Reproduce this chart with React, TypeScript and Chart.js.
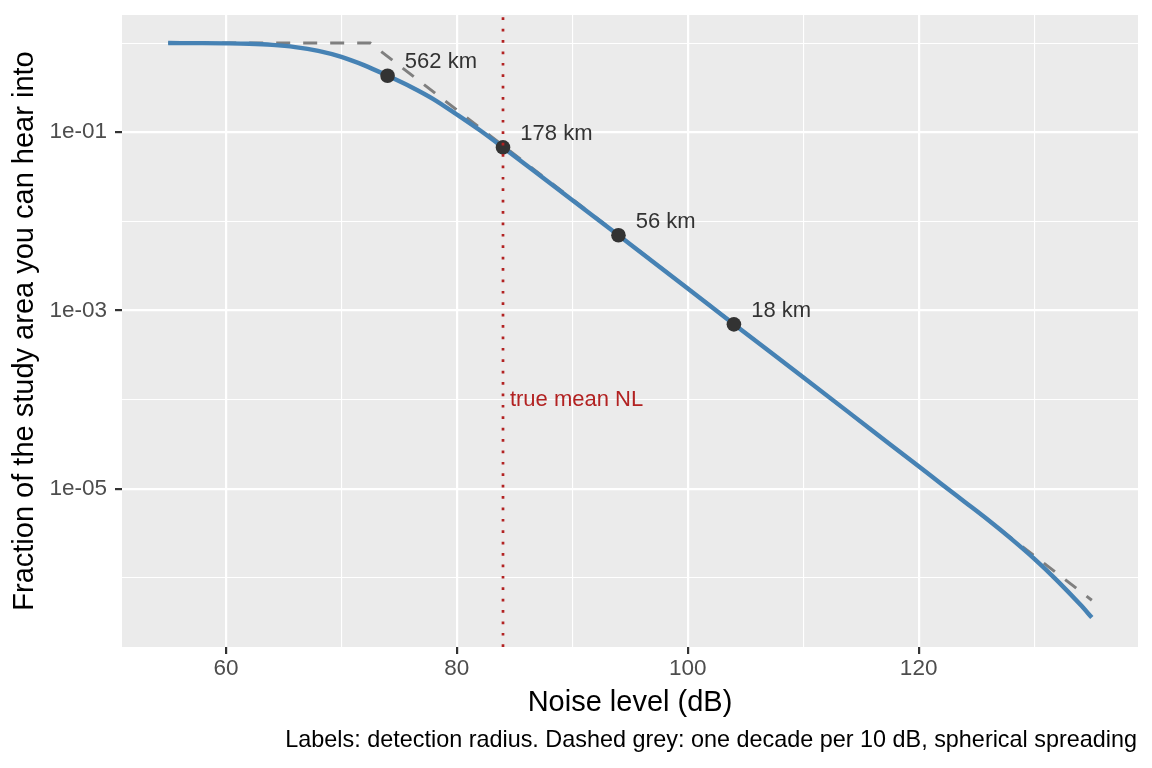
import { useEffect, useRef } from "react"
import { Chart, registerables } from "chart.js"

Chart.register(...registerables)

const FONT = "'Liberation Sans', Arial, sans-serif"

// Blue curve: fraction of study area heard vs noise level
const noiseLevel = [55, 58, 60, 62, 64, 66, 68, 70, 72, 74, 76, 78, 80, 82, 84, 88, 94, 100, 104, 110, 116, 120, 122, 124, 126, 128, 130, 132, 134, 135]
const fractionHeard = [
  1.0, 0.998, 0.993, 0.982, 0.955, 0.902, 0.817, 0.7, 0.562, 0.43, 0.324, 0.234, 0.158, 0.105, 0.0675, 0.0272,
  0.00697, 0.00176, 0.000698, 0.000178, 4.47e-5, 1.78e-5, 1.12e-5, 7.08e-6, 4.47e-6, 2.75e-6, 1.64e-6, 9.3e-7,
  5.0e-7, 3.58e-7,
]

// Labelled points: detection radius
const radiusNL = [74, 84, 94, 104]
const radiusFraction = [0.43, 0.0675, 0.00697, 0.000698]
const radiusLabels = ["562 km", "178 km", "56 km", "18 km"]

// Dashed grey: one decade per 10 dB
const sphericalNL = [55, 72.5, 135]
const sphericalFraction = [1, 1, 5.6e-7]

const trueMeanNL = 84
const trueMeanLabelY = 1e-4
const trueMeanLabel = "true mean NL"

const xMajorTicks = [60, 80, 100, 120]
const xMinorTicks = [70, 90, 110, 130]
const yMajorTicks = [1e-5, 1e-3, 1e-1]
const yMinorTicks = [1e-6, 1e-4, 1e-2, 1]
const yTickLabels = ["1e-05", "1e-03", "1e-01"]

const X_MIN = 51
const X_MAX = 139
const Y_MIN = Math.pow(10, -6.777)
const Y_MAX = Math.pow(10, 0.315)

const isMajorY = (v: number) => yMajorTicks.some((m) => Math.abs(Math.log10(m) - Math.log10(v)) < 1e-6)

const ggDecor = {
  id: "ggDecor",
  beforeDraw(chart: any) {
    const { ctx, chartArea: a } = chart
    ctx.save()
    ctx.fillStyle = "#EBEBEB"
    ctx.fillRect(a.left, a.top, a.right - a.left, a.bottom - a.top)
    ctx.restore()
  },
  afterDatasetsDraw(chart: any) {
    const { ctx, scales } = chart
    const x = scales.x
    const y = scales.y
    ctx.save()
    ctx.font = `22px ${FONT}`
    ctx.textAlign = "left"
    ctx.textBaseline = "middle"
    ctx.fillStyle = "#333333"
    radiusLabels.forEach((t, i) => {
      ctx.fillText(t, x.getPixelForValue(radiusNL[i] + 1.5), y.getPixelForValue(radiusFraction[i] * Math.pow(10, 0.15)))
    })
    ctx.fillStyle = "#B22222"
    ctx.fillText(trueMeanLabel, x.getPixelForValue(trueMeanNL + 0.6), y.getPixelForValue(trueMeanLabelY))
    ctx.restore()
  },
  afterDraw(chart: any) {
    const { ctx, chartArea: a } = chart
    ctx.save()
    ctx.fillStyle = "#000000"
    ctx.textBaseline = "alphabetic"
    ctx.font = `29px ${FONT}`
    ctx.textAlign = "center"
    ctx.fillText("Noise level (dB)", (a.left + a.right) / 2, a.bottom + 64)
    ctx.save()
    ctx.translate(33, (a.top + a.bottom) / 2)
    ctx.rotate(-Math.PI / 2)
    ctx.fillText("Fraction of the study area you can hear into", 0, 0)
    ctx.restore()
    ctx.font = `23.4px ${FONT}`
    ctx.textAlign = "right"
    ctx.fillText("Labels: detection radius. Dashed grey: one decade per 10 dB, spherical spreading", a.right - 1, a.bottom + 100)
    ctx.restore()
  },
}

export default function App() {
  const chartRef = useRef<HTMLCanvasElement>(null)
  const chartInstance = useRef<Chart | null>(null)

  useEffect(() => {
    if (!chartRef.current) return
    if (chartInstance.current) chartInstance.current.destroy()
    const ctx = chartRef.current.getContext("2d")
    if (!ctx) return

    Chart.defaults.font.family = FONT

    chartInstance.current = new Chart(ctx, {
      type: "scatter",
      data: {
        datasets: [
          {
            label: "spherical",
            data: sphericalNL.map((v, i) => ({ x: v, y: sphericalFraction[i] })),
            showLine: true,
            borderColor: "#7F7F7F",
            borderWidth: 3,
            borderDash: [14, 13],
            pointRadius: 0,
            order: 4,
          },
          {
            label: "fraction",
            data: noiseLevel.map((v, i) => ({ x: v, y: fractionHeard[i] })),
            showLine: true,
            borderColor: "#4682B4",
            borderWidth: 4.4,
            cubicInterpolationMode: "monotone",
            pointRadius: 0,
            order: 3,
          },
          {
            label: "radius",
            data: radiusNL.map((v, i) => ({ x: v, y: radiusFraction[i] })),
            showLine: false,
            pointRadius: 7.3,
            pointBackgroundColor: "#333333",
            pointBorderWidth: 0,
            order: 2,
          },
          {
            label: "true mean",
            data: [
              { x: trueMeanNL, y: Y_MIN },
              { x: trueMeanNL, y: Y_MAX },
            ],
            showLine: true,
            borderColor: "#B22222",
            borderWidth: 2.7,
            borderDash: [2.7, 8.7],
            borderCapStyle: "butt",
            pointRadius: 0,
            order: 1,
          },
        ],
      },
      options: {
        responsive: true,
        maintainAspectRatio: false,
        animation: false,
        layout: { padding: { top: 15, right: 14, left: 0, bottom: 0 } },
        plugins: {
          legend: { display: false },
          tooltip: { enabled: false },
        },
        scales: {
          x: {
            type: "linear",
            min: X_MIN,
            max: X_MAX,
            afterBuildTicks: (s: any) => {
              s.ticks = [...xMajorTicks, ...xMinorTicks].sort((a, b) => a - b).map((v) => ({ value: v }))
            },
            afterFit: (s: any) => {
              s.height = 121
              s.paddingLeft = 0
              s.paddingRight = 0
            },
            ticks: {
              autoSkip: false,
              maxRotation: 0,
              padding: 1,
              color: "#4D4D4D",
              font: { size: 22.5 },
              callback: (v: any) => (xMajorTicks.includes(Number(v)) ? String(v) : ""),
            },
            grid: {
              color: "#FFFFFF",
              lineWidth: (c: any) => (xMajorTicks.includes(c.tick?.value) ? 2.2 : 1.1),
              drawTicks: true,
              tickLength: 7,
              tickWidth: 2.2,
              tickColor: (c: any) => (xMajorTicks.includes(c.tick?.value) ? "#333333" : "rgba(0,0,0,0)"),
            },
            border: { display: false },
          },
          y: {
            type: "logarithmic",
            min: Y_MIN,
            max: Y_MAX,
            afterBuildTicks: (s: any) => {
              s.ticks = [...yMajorTicks, ...yMinorTicks].sort((a, b) => a - b).map((v) => ({ value: v }))
            },
            afterFit: (s: any) => {
              s.width = 122
              s.paddingTop = 0
              s.paddingBottom = 0
            },
            ticks: {
              autoSkip: false,
              padding: 8,
              color: "#4D4D4D",
              font: { size: 22.5 },
              callback: (v: any) => {
                const i = yMajorTicks.findIndex((m) => Math.abs(Math.log10(m) - Math.log10(Number(v))) < 1e-6)
                return i >= 0 ? yTickLabels[i] : ""
              },
            },
            grid: {
              color: "#FFFFFF",
              lineWidth: (c: any) => (c.tick && isMajorY(c.tick.value) ? 2.2 : 1.1),
              drawTicks: true,
              tickLength: 7,
              tickWidth: 2.2,
              tickColor: (c: any) => (c.tick && isMajorY(c.tick.value) ? "#333333" : "rgba(0,0,0,0)"),
            },
            border: { display: false },
          },
        },
      },
      plugins: [ggDecor],
    } as any)

    return () => {
      if (chartInstance.current) {
        chartInstance.current.destroy()
        chartInstance.current = null
      }
    }
  }, [])

  return (
    <div style={{ position: "fixed", left: 0, top: 0, width: 1152, height: 768, background: "#FFFFFF" }}>
      <canvas ref={chartRef}></canvas>
    </div>
  )
}
